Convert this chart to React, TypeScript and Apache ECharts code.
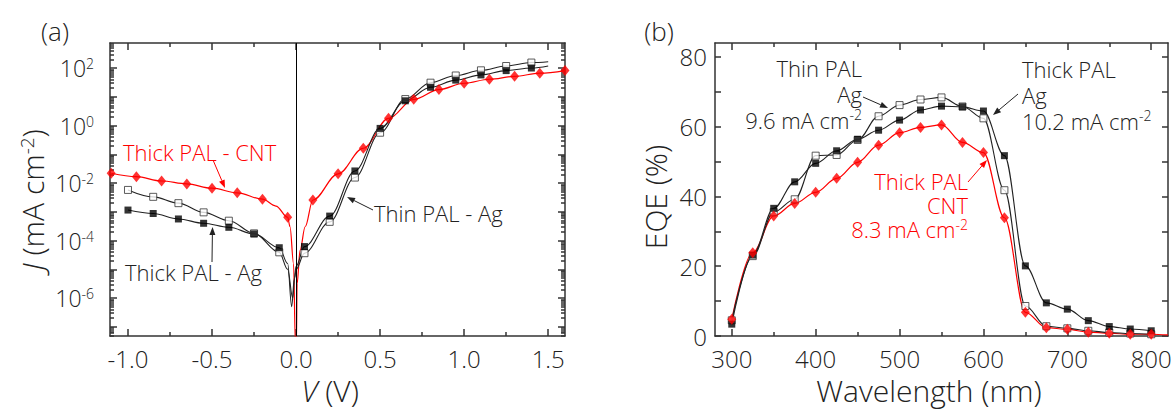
import { useEffect, useRef } from 'react';
import * as echarts from 'echarts';

// ---------- Panel (a): J–V curves, values are log10 of |J| (mA cm^-2) ----------
const cntMarkV = [-1.1, -0.95, -0.8, -0.65, -0.5, -0.35, -0.2, -0.05, 0.1, 0.25, 0.4, 0.55, 0.7, 0.85, 1.0, 1.15, 1.3, 1.45, 1.6];
const cntMarkLogJ = [-1.66, -1.78, -1.93, -2.03, -2.18, -2.34, -2.56, -3.19, -2.59, -1.68, -0.79, 0.25, 0.91, 1.25, 1.47, 1.61, 1.71, 1.82, 1.91];
const cntExtraV = [-0.12, -0.036, -0.015, -0.004, 0.002, 0.006, 0.024, 0.054];
const cntExtraLogJ = [-2.8, -3.52, -4.8, -7.6, -7.6, -5.5, -4.33, -3.52];

const agMarkV = [-1.0, -0.85, -0.7, -0.55, -0.4, -0.25, -0.1, 0.05, 0.2, 0.35, 0.5, 0.65, 0.8, 0.95, 1.1, 1.25, 1.4];
const thinMarkLogJ = [-2.24, -2.48, -2.7, -3.02, -3.31, -3.75, -4.41, -4.44, -3.35, -1.81, -0.25, 0.92, 1.49, 1.74, 1.92, 2.07, 2.19];
const thinExtraV = [-0.05, -0.02, -0.008, 0.0, 1.5];
const thinExtraLogJ = [-5.0, -6.0, -5.3, -5.0, 2.22];
const thickMarkLogJ = [-2.94, -3.06, -3.25, -3.4, -3.54, -3.77, -4.25, -4.21, -3.15, -1.58, -0.1, 0.86, 1.33, 1.58, 1.76, 1.91, 2.0];
const thickExtraV = [-0.05, -0.026, -0.01, 0.0, 1.5];
const thickExtraLogJ = [-4.8, -6.3, -5.3, -4.9, 2.07];

const jvXLabels = [-1.0, -0.5, 0.0, 0.5, 1.0, 1.5];
const jvXMinor = [-0.75, -0.25, 0.25, 0.75, 1.25];
const jvYLabels = [-6, -4, -2, 0, 2];
const jvYDecades = [-7, -6, -5, -4, -3, -2, -1, 0, 1, 2];

// ---------- Panel (b): EQE spectra ----------
const wavelength = [300, 325, 350, 375, 400, 425, 450, 475, 500, 525, 550, 575, 600, 625, 650, 675, 700, 725, 750, 775, 800];
const eqeThinAg = [4.5, 22.9, 35.5, 39.2, 51.7, 51.9, 56.2, 63.0, 66.2, 67.8, 68.4, 65.8, 62.4, 41.8, 8.6, 2.8, 2.2, 1.5, 1.0, 0.7, 0.5];
const eqeThickAg = [3.4, 23.2, 36.6, 44.2, 49.5, 53.1, 56.4, 59.0, 61.9, 64.8, 65.9, 65.7, 64.5, 51.7, 20.1, 9.5, 7.7, 4.4, 2.7, 2.0, 1.5];
const eqeThickCnt = [4.8, 23.9, 34.4, 38.0, 41.2, 45.2, 49.8, 54.7, 58.3, 59.8, 60.5, 55.5, 52.6, 33.9, 6.8, 2.4, 1.9, 1.1, 0.8, 0.5, 0.5];
const cntTailWl = [820];
const cntTailEqe = [0.3];

const eqeXLabels = [300, 400, 500, 600, 700, 800];
const eqeXMinor = [350, 450, 550, 650, 750];
const eqeYLabels = [0, 20, 40, 60, 80];
const eqeYMinor = [10, 30, 50, 70];

const FONT = "'Open Sans', 'Segoe UI', 'DejaVu Sans', sans-serif";
const WEIGHT = 300;
const TXT = '#222';
const AX = '#333';
const RED = '#ff0000';

const zip = (xs: number[], ys: number[]) => xs.map((x, i) => [x, ys[i]]);
const merged = (a: number[][], b: number[][]) => [...a, ...b].sort((p, q) => p[0] - q[0]);

function logMinor(min: number, max: number) {
  const out: number[] = [];
  for (let n = -8; n <= 3; n++) {
    for (let k = 2; k <= 9; k++) {
      const v = n + Math.log10(k);
      if (v > min && v < max) out.push(v);
    }
  }
  return out;
}

function axisPair(kind: 'x' | 'y', grid: number, min: number, max: number, ticks: number[], len: number, main: boolean, labels?: { values: number[]; fmt: any; rich?: any; margin: number }) {
  const tickStyle = { color: AX, width: 1.5 };
  const mk = (pos: string, withLabels: boolean) => ({
    gridIndex: grid,
    type: 'value',
    min,
    max,
    position: pos,
    splitLine: { show: false },
    axisLine: { show: main, onZero: false, lineStyle: { color: AX, width: 1.5 } },
    axisTick: { show: true, inside: true, length: len, customValues: ticks, lineStyle: tickStyle },
    axisLabel: withLabels && labels
      ? { show: true, customValues: labels.values, formatter: labels.fmt, fontSize: 24, fontWeight: WEIGHT, color: TXT, fontFamily: FONT, margin: labels.margin, rich: labels.rich }
      : { show: false },
  });
  return kind === 'x' ? [mk('bottom', true), mk('top', false)] : [mk('left', true), mk('right', false)];
}

function arrow(x1: number, y1: number, x2: number, y2: number, color: string) {
  const ang = Math.atan2(y2 - y1, x2 - x1);
  const L = 8, W = 3;
  const bx = x2 - L * Math.cos(ang), by = y2 - L * Math.sin(ang);
  const px = -Math.sin(ang) * W, py = Math.cos(ang) * W;
  return [
    { type: 'line', silent: true, shape: { x1, y1, x2: bx, y2: by }, style: { stroke: color, lineWidth: 1 } },
    { type: 'polygon', silent: true, shape: { points: [[x2, y2], [bx + px, by + py], [bx - px, by - py]] }, style: { fill: color } },
  ];
}

function txt(text: string, x: number, y: number, align: string, size: number, color: string, extra: any = {}, lh = size) {
  const rich = {
    s: { fontSize: Math.round(size * 0.62), fontWeight: WEIGHT, verticalAlign: 'top', fill: color, fontFamily: FONT, lineHeight: lh },
    n: { fontSize: size, fontWeight: WEIGHT, fill: color, fontFamily: FONT, lineHeight: lh },
    i: { fontSize: size, fontWeight: WEIGHT, fontStyle: 'italic', fill: color, fontFamily: FONT, lineHeight: lh },
  };
  return {
    type: 'text',
    silent: true,
    x,
    y,
    ...extra,
    style: {
      text, align, verticalAlign: 'middle', textAlign: align, textVerticalAlign: 'middle',
      fontSize: size, fontWeight: WEIGHT, fontFamily: FONT, fill: color, lineHeight: lh, rich,
    },
  };
}

export default function App() {
  const ref = useRef<HTMLDivElement>(null);
  useEffect(() => {
    if (!ref.current) return;
    const chart = echarts.init(ref.current, null, { renderer: 'svg' });

    const aX = [-1.107, 1.6];
    const aY = [-7.32, 2.87];
    const bX = [280, 820];
    const bY = [0, 84];
    const gA = { left: 110, top: 43, width: 455, height: 293 };
    const gB = { left: 715, top: 43, width: 453, height: 293 };

    const supRich = {
      b: { fontSize: 23, fontWeight: WEIGHT, color: TXT, fontFamily: FONT },
      s: { fontSize: 14, fontWeight: WEIGHT, color: TXT, fontFamily: FONT, verticalAlign: 'top' },
    };

    const xAxis = [
      ...axisPair('x', 0, aX[0], aX[1], jvXLabels, 7, true, { values: jvXLabels, fmt: (v: number) => v.toFixed(1), margin: 10 }),
      ...axisPair('x', 1, aX[0], aX[1], jvXMinor, 4, false),
      ...axisPair('x', 2, bX[0], bX[1], eqeXLabels, 7, true, { values: eqeXLabels, fmt: (v: number) => String(v), margin: 10 }),
      ...axisPair('x', 3, bX[0], bX[1], eqeXMinor, 4, false),
    ];
    const yAxis = [
      ...axisPair('y', 0, aY[0], aY[1], jvYDecades, 7, true, { values: jvYLabels, fmt: (v: number) => `{b|10}{s|${Math.round(v)}}`, rich: supRich, margin: 16 }),
      ...axisPair('y', 1, aY[0], aY[1], logMinor(aY[0], aY[1]), 4, false),
      ...axisPair('y', 2, bY[0], bY[1], [...eqeYLabels, ...eqeYMinor], 6, true, { values: eqeYLabels, fmt: (v: number) => String(v), margin: 8 }),
      ...axisPair('y', 3, bY[0], bY[1], [], 4, false),
    ];

    const lineBase = { type: 'line', smooth: 0.35, smoothMonotone: 'x', symbol: 'none', clip: true, z: 2 };
    const series: any[] = [
      // Panel (a)
      {
        ...lineBase, name: 'Thick PAL - CNT', xAxisIndex: 0, yAxisIndex: 0,
        data: merged(zip(cntMarkV, cntMarkLogJ), zip(cntExtraV, cntExtraLogJ)),
        lineStyle: { color: RED, width: 1.2 },
        markLine: {
          silent: true, symbol: ['none', 'none'], label: { show: false },
          lineStyle: { color: '#000', width: 1, type: 'solid' },
          data: [{ xAxis: 0 }],
        },
      },
      {
        ...lineBase, name: 'Thin PAL - Ag', xAxisIndex: 0, yAxisIndex: 0,
        data: merged(zip(agMarkV, thinMarkLogJ), zip(thinExtraV, thinExtraLogJ)),
        lineStyle: { color: '#222', width: 1.1 },
      },
      {
        ...lineBase, name: 'Thick PAL - Ag', xAxisIndex: 0, yAxisIndex: 0,
        data: merged(zip(agMarkV, thickMarkLogJ), zip(thickExtraV, thickExtraLogJ)),
        lineStyle: { color: '#222', width: 1.1 },
      },
      { type: 'scatter', xAxisIndex: 0, yAxisIndex: 0, z: 4, symbol: 'rect', symbolSize: 7, data: zip(agMarkV, thinMarkLogJ), itemStyle: { color: '#fff', borderColor: '#333', borderWidth: 1 } },
      { type: 'scatter', xAxisIndex: 0, yAxisIndex: 0, z: 4, symbol: 'rect', symbolSize: 7, data: zip(agMarkV, thickMarkLogJ), itemStyle: { color: '#000' } },
      { type: 'scatter', xAxisIndex: 0, yAxisIndex: 0, z: 4, symbol: 'diamond', symbolSize: [9, 11], data: zip(cntMarkV, cntMarkLogJ), itemStyle: { color: RED } },
      // Panel (b)
      {
        ...lineBase, name: 'Thick PAL CNT', xAxisIndex: 4, yAxisIndex: 4,
        data: merged(zip(wavelength, eqeThickCnt), zip(cntTailWl, cntTailEqe)),
        lineStyle: { color: RED, width: 1.2 },
      },
      { ...lineBase, name: 'Thin PAL Ag', xAxisIndex: 4, yAxisIndex: 4, data: zip(wavelength, eqeThinAg), lineStyle: { color: '#222', width: 1.1 } },
      { ...lineBase, name: 'Thick PAL Ag', xAxisIndex: 4, yAxisIndex: 4, data: zip(wavelength, eqeThickAg), lineStyle: { color: '#222', width: 1.1 } },
      { type: 'scatter', xAxisIndex: 4, yAxisIndex: 4, z: 4, symbol: 'rect', symbolSize: 7, data: zip(wavelength, eqeThinAg), itemStyle: { color: '#fff', borderColor: '#333', borderWidth: 1 } },
      { type: 'scatter', xAxisIndex: 4, yAxisIndex: 4, z: 4, symbol: 'rect', symbolSize: 7, data: zip(wavelength, eqeThickAg), itemStyle: { color: '#000' } },
      { type: 'scatter', xAxisIndex: 4, yAxisIndex: 4, z: 4, symbol: 'diamond', symbolSize: [9, 11], data: zip(wavelength, eqeThickCnt), itemStyle: { color: RED } },
    ];

    const graphic: any[] = [
      txt('(a)', 55, 31, 'center', 26, TXT),
      txt('(b)', 659, 31, 'center', 26, TXT),
      // axis titles
      txt('{i|J} (mA cm{s|-2})', 32, 200, 'center', 30, TXT, { rotation: Math.PI / 2 }),
      txt('{i|V} (V)', 330, 390, 'center', 30, TXT),
      txt('EQE (%)', 655, 197, 'center', 30, TXT, { rotation: Math.PI / 2 }),
      txt('Wavelength (nm)', 929, 390, 'center', 30, TXT),
      // panel (a) annotations
      txt('Thick PAL - CNT', 123, 152, 'left', 22, RED),
      ...arrow(213, 160, 225, 188, RED),
      txt('Thin PAL - Ag', 374, 213, 'left', 22, TXT),
      ...arrow(373, 210, 347, 197, TXT),
      txt('Thick PAL - Ag', 125, 272, 'left', 22, TXT),
      ...arrow(212, 262, 212.5, 227, TXT),
      // panel (b) annotations
      txt('Thin PAL\nAg\n9.6 mA cm{s|-2}', 862, 94, 'right', 22, TXT, {}, 26),
      ...arrow(863, 97, 888, 108, TXT),
      txt('Thick PAL\nAg\n10.2 mA cm{s|-2}', 1022, 95, 'left', 22, TXT, {}, 26),
      ...arrow(1018, 94, 993, 115, TXT),
      txt('Thick PAL\nCNT\n8.3 mA cm{s|-2}', 968, 205, 'right', 22, RED, {}, 24),
      ...arrow(968, 182, 987, 160, RED),
    ];

    chart.setOption({
      animation: false,
      backgroundColor: '#fff',
      textStyle: { fontFamily: FONT },
      grid: [
        { ...gA, containLabel: false },
        { ...gA, containLabel: false },
        { ...gB, containLabel: false },
        { ...gB, containLabel: false },
      ],
      xAxis,
      yAxis,
      series,
      graphic,
    });
    return () => chart.dispose();
  }, []);
  return <div ref={ref} style={{ position: 'fixed', left: 0, top: 0, width: 1175, height: 411, background: '#fff' }} />;
}
